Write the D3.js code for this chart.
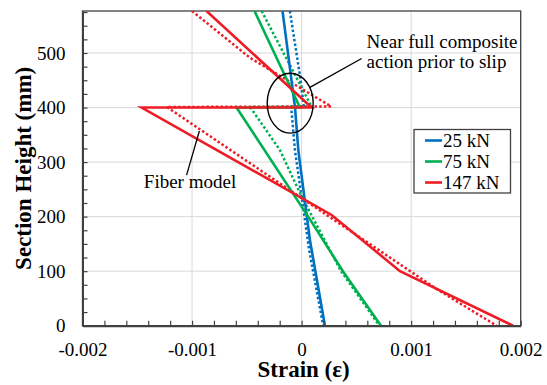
<!DOCTYPE html>
<html>
<head>
<meta charset="utf-8">
<script src="https://cdn.jsdelivr.net/npm/d3@7"></script>
<style>
    body { margin: 0; background: #fff; }
</style>
</head>
<body>
<svg id="chart" width="547" height="385"></svg>
<script>
const margins = { top: 11, right: 26.3, bottom: 59.3, left: 82.5 };
const totalWidth = 547;
const totalHeight = 385;
const serif = "'Liberation Serif', 'Times New Roman', serif";

const innerWidth = totalWidth - margins.left - margins.right;
const innerHeight = totalHeight - margins.top - margins.bottom;

// axis ticks
const xTicks = [-0.002, -0.001, 0, 0.001, 0.002];
const xTickLabels = ["-0.002", "-0.001", "0", "0.001", "0.002"];
const yTicks = [0, 100, 200, 300, 400, 500];
const yTickLabels = ["0", "100", "200", "300", "400", "500"];
const yMax = 577;

const loads = ["25 kN", "75 kN", "147 kN"];
const colors = ["#0070c0", "#00b050", "#ee1c25"];

// measured strain profiles [strain, height mm] (solid)
const test25 = [[-0.000174, 577], [-0.00006, 400], [-0.00003, 322], [0.000076, 157], [0.000213, 0]];
const test75 = [[-0.00043, 577], [-0.000015, 400], [-0.000594, 400], [0.00006, 200], [0.00038, 99], [0.000725, 0]];
const test147 = [[-0.000868, 577], [0.000091, 400], [-0.00146, 400], [0.000274, 203], [0.000898, 100], [0.00193, 0]];

// fiber model profiles (dotted)
const fiber25 = [[-0.000107, 577], [-0.000016, 460], [0.00002, 402], [-0.000095, 401], [-0.000061, 322], [0.000069, 139], [0.000197, 0]];
const fiber75 = [[-0.000365, 577], [0.00009, 402], [-0.00047, 401], [-0.000198, 322], [0.0, 237], [0.00036, 100], [0.00071, 0]];
const fiber147 = [[-0.001, 577], [-0.00047, 491], [0.00027, 402], [-0.00123, 401], [0.0, 234], [0.00125, 65], [0.00178, 0]];

// annotations, in data units
const ellipseCenter = [-0.000104, 408];
const ellipseRadius = [0.00021, 55];
const noteLines = ["Near full composite", "action prior to slip"];
const notePos = [[0.000593, 509], [0.000593, 472]];
const noteLeader = [[0.000548, 490], [0.000076, 437]];
const fiberLabel = "Fiber model";
const fiberLabelPos = [-0.00144, 252];
const fiberLeader = [[-0.00105, 276], [-0.000933, 357]];

const tests = [test25, test75, test147];
const fibers = [fiber25, fiber75, fiber147];

const chart = d3.select("#chart");
const g = chart.append("g").attr("transform", `translate(${margins.left},${margins.top})`);

const xscale = d3.scaleLinear([-0.002, 0.002], [0, innerWidth]);
const yscale = d3.scaleLinear([0, yMax], [innerHeight, 0]);

makeGrid();
makeLines();
makeAxes();
makeNotes();
makeLegend();

function makeGrid() {
    g.selectAll(".xgrid").data(xTicks).enter()
        .append("line")
        .attr("x1", d => xscale(d)).attr("x2", d => xscale(d))
        .attr("y1", 0).attr("y2", innerHeight)
        .attr("stroke", "#d9d9d9");
    g.selectAll(".ygrid").data(yTicks).enter()
        .append("line")
        .attr("x1", 0).attr("x2", innerWidth)
        .attr("y1", d => yscale(d)).attr("y2", d => yscale(d))
        .attr("stroke", "#d9d9d9");
    g.append("rect")
        .attr("width", innerWidth)
        .attr("height", innerHeight)
        .attr("fill", "none")
        .attr("stroke", "#404040")
        .attr("stroke-width", 1.3);
}

function makeLines() {
    chart.append("clipPath").attr("id", "plotclip")
        .append("rect").attr("width", innerWidth).attr("height", innerHeight);
    let area = g.append("g").attr("clip-path", "url(#plotclip)");
    let line = d3.line().x(d => xscale(d[0])).y(d => yscale(d[1]));

    // dotted fiber model first, measured on top
    area.selectAll(".fiber").data(fibers).enter()
        .append("path")
        .attr("d", line)
        .attr("fill", "none")
        .attr("stroke", (d, i) => colors[i])
        .attr("stroke-width", 2.5)
        .attr("stroke-dasharray", "2.5,2.2");
    area.selectAll(".test").data(tests).enter()
        .append("path")
        .attr("d", line)
        .attr("fill", "none")
        .attr("stroke", (d, i) => colors[i])
        .attr("stroke-width", 2.6)
        .attr("stroke-linejoin", "miter");
}

function styleAxis(sel) {
    sel.attr("font-family", serif).attr("font-size", 19);
    sel.selectAll("text").attr("fill", "#000").attr("font-family", serif);
    sel.selectAll("line").attr("stroke", "#404040").attr("stroke-width", 1.2);
}

function makeAxes() {
    let xMinor = d3.range(-10, 11).map(i => i * 0.0002);
    let yMinor = d3.range(0, 24).map(i => i * 25);

    let xminor = g.append("g")
        .attr("transform", `translate(0,${innerHeight})`)
        .call(d3.axisBottom(xscale).tickValues(xMinor).tickSizeInner(-5).tickSizeOuter(0).tickFormat(""));
    styleAxis(xminor);
    xminor.selectAll("text").remove();
    xminor.select(".domain").attr("stroke", "#404040").attr("stroke-width", 2);

    let xlabels = g.append("g")
        .attr("transform", `translate(0,${innerHeight})`)
        .call(d3.axisBottom(xscale).tickValues(xTicks).tickSize(0).tickPadding(17).tickFormat((d, i) => xTickLabels[i]));
    styleAxis(xlabels);
    xlabels.select(".domain").remove();

    let yminor = g.append("g")
        .call(d3.axisLeft(yscale).tickValues(yMinor).tickSizeInner(-5).tickSizeOuter(0).tickFormat(""));
    styleAxis(yminor);
    yminor.selectAll("text").remove();
    yminor.select(".domain").attr("stroke", "#404040").attr("stroke-width", 2);

    let ylabels = g.append("g")
        .call(d3.axisLeft(yscale).tickValues(yTicks).tickSize(0).tickPadding(17).tickFormat((d, i) => yTickLabels[i]));
    styleAxis(ylabels);
    ylabels.select(".domain").remove();

    // axis titles
    chart.append("text")
        .attr("x", margins.left + innerWidth / 2 + 2)
        .attr("y", 377)
        .attr("text-anchor", "middle")
        .attr("font-family", serif)
        .attr("font-size", 23)
        .attr("font-weight", "bold")
        .text("Strain (\u03b5)");
    chart.append("text")
        .attr("transform", `translate(31,${margins.top + innerHeight / 2}) rotate(-90)`)
        .attr("text-anchor", "middle")
        .attr("font-family", serif)
        .attr("font-size", 23)
        .attr("font-weight", "bold")
        .text("Section Height (mm)");
}

function makeNotes() {
    let cx = xscale(ellipseCenter[0]);
    let cy = yscale(ellipseCenter[1]);
    g.append("ellipse")
        .attr("cx", cx).attr("cy", cy)
        .attr("rx", xscale(ellipseCenter[0] + ellipseRadius[0]) - cx)
        .attr("ry", cy - yscale(ellipseCenter[1] + ellipseRadius[1]))
        .attr("fill", "none")
        .attr("stroke", "#000")
        .attr("stroke-width", 1.4);

    [noteLeader, fiberLeader].forEach(p => {
        g.append("line")
            .attr("x1", xscale(p[0][0])).attr("y1", yscale(p[0][1]))
            .attr("x2", xscale(p[1][0])).attr("y2", yscale(p[1][1]))
            .attr("stroke", "#000")
            .attr("stroke-width", 1.3);
    });

    g.selectAll(".note").data(noteLines).enter()
        .append("text")
        .attr("x", (d, i) => xscale(notePos[i][0]))
        .attr("y", (d, i) => yscale(notePos[i][1]))
        .attr("font-family", serif)
        .attr("font-size", 19)
        .attr("fill", "#000")
        .text(d => d);

    g.append("text")
        .attr("x", xscale(fiberLabelPos[0]))
        .attr("y", yscale(fiberLabelPos[1]))
        .attr("font-family", serif)
        .attr("font-size", 19)
        .attr("fill", "#000")
        .text(fiberLabel);
}

function makeLegend() {
    let legend = chart.append("g").attr("transform", "translate(414,129.5)");
    legend.append("rect")
        .attr("width", 96.5)
        .attr("height", 63.5)
        .attr("fill", "#fff")
        .attr("stroke", "#404040")
        .attr("stroke-width", 1.3);
    let rows = legend.selectAll(".row").data(loads).enter()
        .append("g")
        .attr("transform", (d, i) => `translate(0,${11 + i * 21})`);
    rows.append("line")
        .attr("x1", 11).attr("x2", 28)
        .attr("stroke", (d, i) => colors[i])
        .attr("stroke-width", 2.6);
    rows.append("text")
        .attr("x", 29)
        .attr("y", 6.5)
        .attr("font-family", serif)
        .attr("font-size", 19)
        .attr("fill", "#000")
        .text(d => d);
}
</script>
</body>
</html>
